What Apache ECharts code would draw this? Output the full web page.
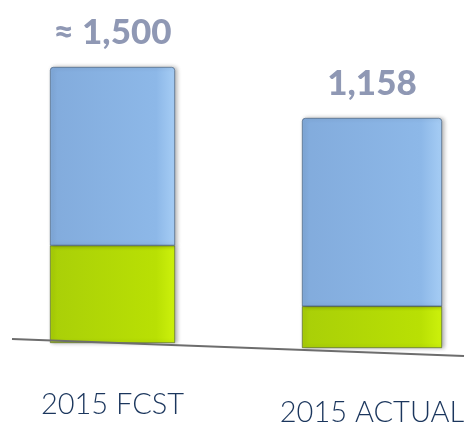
<!DOCTYPE html>
<html>
<head>
<meta charset="utf-8">
<script src="https://cdn.jsdelivr.net/npm/echarts@6/dist/echarts.min.js"></script>
<style>
  html, body { margin: 0; padding: 0; background: #fff; }
  #demo { width: 468px; height: 427px; }
</style>
</head>
<body>
<div id="demo"></div>
<script>
// values
const categories = ['2015 FCST', '2015 ACTUAL'];
const greenPart = [530, 210];
const bluePart = [970, 948];
const totals = [1500, 1158];
const totalLabels = ['\u2248 1,500', '1,158'];

let chart = echarts.init(document.getElementById('demo'));

const blueFill = new echarts.graphic.LinearGradient(0, 0, 1, 0, [
	{ offset: 0, color: '#82abdc' },
	{ offset: 0.85, color: '#8db8e8' },
	{ offset: 1, color: '#a6cdf5' }
]);
const greenFill = new echarts.graphic.LinearGradient(0, 0, 1, 0, [
	{ offset: 0, color: '#a9cf08' },
	{ offset: 0.85, color: '#b9e004' },
	{ offset: 1, color: '#cdf20c' }
]);

// one grid per bar, the baseline in the picture is tilted
const grids = [
	{ left: 50, width: 125, top: 67, bottom: 84 },
	{ left: 302, width: 140, top: 118, bottom: 74 }
];
const margins = [47, 50];

let option = {
	backgroundColor: '#fff',
	animation: false,
	grid: grids,
	xAxis: categories.map((c, i) => ({
		type: 'category',
		gridIndex: i,
		data: [c],
		axisLine: { show: false },
		axisTick: { show: false },
		axisLabel: {
			margin: margins[i],
			color: '#1b365d',
			fontFamily: 'Lato',
			fontSize: 29,
			fontWeight: 300
		}
	})),
	yAxis: totals.map((t, i) => ({
		type: 'value',
		gridIndex: i,
		min: 0,
		max: t,
		show: false
	})),
	series: [],
	graphic: [{
		type: 'line',
		shape: { x1: 12, y1: 339, x2: 464, y2: 356 },
		style: { stroke: '#6d6d6d', lineWidth: 2 },
		z: 10
	}]
};

categories.forEach((c, i) => {
	option.series.push({
		type: 'bar',
		xAxisIndex: i,
		yAxisIndex: i,
		stack: 's' + i,
		barWidth: '100%',
		data: [greenPart[i]],
		itemStyle: {
			color: greenFill,
			borderColor: '#4a5a30',
			borderWidth: 0.6,
			shadowColor: 'rgba(0,0,0,0.3)',
			shadowBlur: 4,
			shadowOffsetX: 2
		}
	});
	option.series.push({
		type: 'bar',
		xAxisIndex: i,
		yAxisIndex: i,
		stack: 's' + i,
		barWidth: '100%',
		data: [bluePart[i]],
		itemStyle: {
			color: blueFill,
			borderColor: '#3d5470',
			borderWidth: 0.6,
			borderRadius: [3, 3, 0, 0],
			shadowColor: 'rgba(0,0,0,0.3)',
			shadowBlur: 4,
			shadowOffsetX: 2
		},
		label: {
			show: true,
			position: 'top',
			distance: 17,
			formatter: () => totalLabels[i],
			color: '#8f98b4',
			fontFamily: 'Lato',
			fontWeight: 900,
			fontSize: 35
		}
	});
});

chart.setOption(option);
</script>
</body>
</html>
